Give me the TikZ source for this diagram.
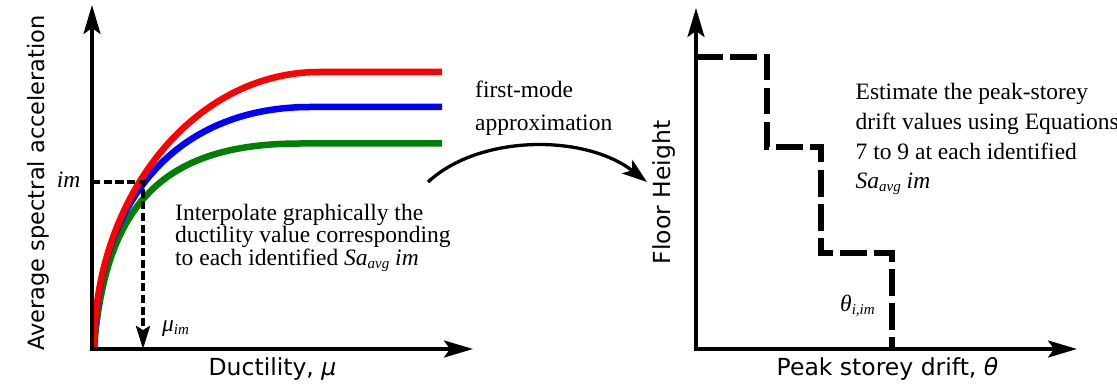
\documentclass[tikz,border=0pt]{standalone}
\usepackage{fontspec}
\setmainfont{Liberation Serif}
\setsansfont{DejaVu Sans}
\usetikzlibrary{arrows.meta}

\definecolor{cRed}{RGB}{255,0,0}
\definecolor{cBlue}{RGB}{0,0,255}
\definecolor{cGreen}{RGB}{0,128,0}

% lowered italic subscript used in the labels
\newcommand{\lowsub}[1]{\raisebox{-3.5pt}{\fontsize{15}{15}\selectfont\itshape #1}}
\newcommand{\saavg}{\textit{Sa}\lowsub{avg} \textit{im}}

\begin{document}
\begin{tikzpicture}[x=1pt,y=-1pt,
  axisline/.style={line width=3.3pt, line join=miter,
    arrows={Stealth[length=29pt,width=17pt,inset=6pt]-Stealth[length=29pt,width=17pt,inset=6pt]}},
  capacity/.style={line width=6.5pt},
  guide/.style={line width=3.3pt, dash pattern=on 8.2pt off 3.5pt,
    -{Stealth[length=23pt,width=14pt,inset=4pt]}},
  stepline/.style={line width=6.8pt, dash pattern=on 26.5pt off 7.5pt, line join=miter},
  bigarrow/.style={line width=3.3pt, -{Stealth[length=25pt,width=17pt,inset=6pt]}},
  serif/.style={font=\fontsize{23.5}{28}\selectfont, inner sep=0pt},
  sanslabel/.style={font=\sffamily\fontsize{23.5}{28}\selectfont, inner sep=0pt},
]
\useasboundingbox (0,0) rectangle (1117,385);
\fill[white] (0,0) rectangle (1117,385);

% ---------- left panel: capacity curves ----------
\coordinate (O1) at (92,349);
\coordinate (Y1) at (92,5);
\coordinate (X1) at (473,349);

\draw[capacity, cGreen] (94,349) .. controls (105,205) and (162,143.5) .. (300,143.5) -- (442,143.5);
\draw[capacity, cBlue] (94,349) .. controls (97,190) and (185,107) .. (310,107) -- (442,107);
\draw[capacity, cRed] (94,349) arc[start angle=180, end angle=270, x radius=225, y radius=277] -- (442,72);

\draw[axisline] (Y1) -- (O1) -- (X1);

\coordinate (imL) at (92,182);
\coordinate (imP) at (143,182);
\coordinate (muB) at (143,349);
\draw[guide] (imL) -- (imP) -- (muB);

\node[serif, anchor=base east] (imlab) at (80.5,187.5) {\textit{im}};
\node[serif, anchor=base west] (mulab) at (162,331) {\textit{μ}\lowsub{im}};

\node[serif, anchor=base west] (ipA) at (175,220.5) {Interpolate graphically the};
\node[serif, anchor=base west] (ipB) at (175,242.5) {ductility value corresponding};
\node[serif, anchor=base west] (ipC) at (175,265) {to each identified \saavg};

\node[sanslabel, anchor=base] (xlabL) at (272.5,375.5) {Ductility, \textit{μ}};
\node[sanslabel, anchor=base, rotate=90, font=\sffamily\fontsize{22.5}{27}\selectfont] (ylabL) at (44.5,183) {Average spectral acceleration};

% ---------- transition arrow ----------
\node[serif, anchor=base west] (fmA) at (475,98) {first-mode};
\node[serif, anchor=base west] (fmB) at (475,131) {approximation};
\coordinate (cA) at (428,182);
\coordinate (cB) at (647,182);
\draw[bigarrow] (cA) .. controls (480,134) and (585,134) .. (cB);

% ---------- right panel: drift profile ----------
\coordinate (O2) at (696,349);
\coordinate (Y2) at (696,8);
\coordinate (X2) at (1077,349);
\draw[axisline] (Y2) -- (O2) -- (X2);

\draw[stepline] (696,57) -- (767,57) -- (767,147) -- (821,147) -- (821,253)
  -- (892,253) -- (892,349);

\node[serif, anchor=base west] (thlab) at (840,311) {\textit{θ}\lowsub{i,im}};

\node[serif, anchor=base west] (esA) at (855.5,100) {Estimate the peak-storey};
\node[serif, anchor=base west] (esB) at (855.5,130) {drift values using Equations};
\node[serif, anchor=base west] (esC) at (855.5,159.5) {7 to 9 at each identified};
\node[serif, anchor=base west] (esD) at (855.5,188.5) {\saavg};

\node[sanslabel, anchor=base] (xlabR) at (887.5,375) {Peak storey drift, \textit{θ}};
\node[sanslabel, anchor=base, rotate=90] (ylabR) at (670,192.5) {Floor Height};
\end{tikzpicture}
\end{document}
